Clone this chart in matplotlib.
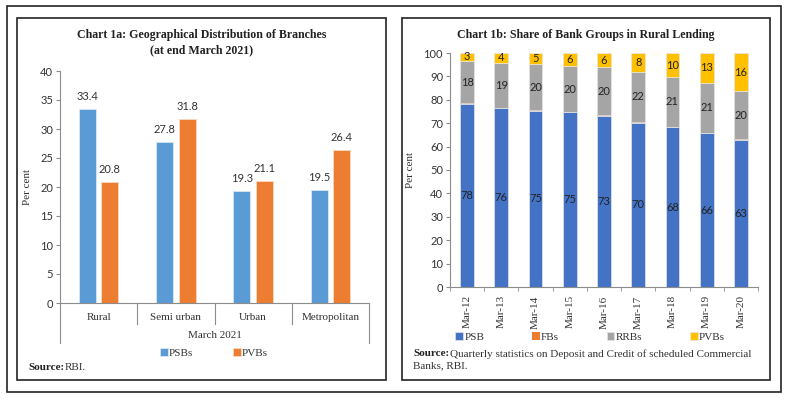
import matplotlib
matplotlib.use("Agg")
import matplotlib.pyplot as plt
from matplotlib.patches import Rectangle
from matplotlib.lines import Line2D
import numpy as np

# ---------------- data ----------------
geo_categories = ["Rural", "Semi urban", "Urban", "Metropolitan"]
geo_group_label = "March 2021"
psbs_share = [33.4, 27.8, 19.3, 19.5]
pvbs_share = [20.8, 31.8, 21.1, 26.4]

years = ["Mar-12", "Mar-13", "Mar-14", "Mar-15", "Mar-16", "Mar-17", "Mar-18", "Mar-19", "Mar-20"]
psb_rural = [78.2, 76.4, 75.3, 74.6, 73.2, 70.1, 68.2, 65.7, 62.9]
fbs_rural = [0.3, 0.3, 0.2, 0.2, 0.3, 0.3, 0.3, 0.3, 0.3]
rrbs_rural = [18.1, 19.2, 19.6, 19.6, 20.4, 21.6, 21.2, 21.3, 20.4]
pvbs_rural = [3.4, 4.1, 4.9, 5.6, 6.1, 8.0, 10.3, 12.7, 16.4]

SERIF = "Liberation Serif"
SANS = "Lato"
FS = 8

W, H = 789, 399
fig = plt.figure(figsize=(W / 100, H / 100), dpi=100)


def fx(px):
    return px / W


def fy(py):
    return 1 - py / H


# boxes
fig.add_artist(Rectangle((fx(7), fy(392)), fx(781) - fx(7), fy(6) - fy(392),
                         transform=fig.transFigure, fill=False, lw=1.2, ec="#222222"))
fig.add_artist(Rectangle((fx(17), fy(380)), fx(386) - fx(17), fy(18) - fy(380),
                         transform=fig.transFigure, fill=False, lw=1.2, ec="#222222"))
fig.add_artist(Rectangle((fx(402), fy(380)), fx(770) - fx(402), fy(18) - fy(380),
                         transform=fig.transFigure, fill=False, lw=1.2, ec="#222222"))

axis_grey = "#8c8c8c"
text_col = "#333333"

# ---------------- Chart 1a ----------------
ax1 = fig.add_axes([fx(60), fy(303), fx(369) - fx(60), fy(71) - fy(303)])
x = np.arange(len(geo_categories))
bw = 0.22
off = 0.145
b1 = ax1.bar(x - off, psbs_share, bw, color="#5B9BD5", edgecolor="#dbe7f3", lw=0.6, label="PSBs")
b2 = ax1.bar(x + off, pvbs_share, bw, color="#ED7D31", edgecolor="#f8d9c4", lw=0.6, label="PVBs")
for rect, v in zip(b1, psbs_share):
    ax1.text(rect.get_x() + rect.get_width() / 2, v + 1.2, f"{v:.1f}", ha="center", va="bottom",
             fontsize=FS, family=SANS, color=text_col)
for rect, v in zip(b2, pvbs_share):
    ax1.text(rect.get_x() + rect.get_width() / 2, v + 1.2, f"{v:.1f}", ha="center", va="bottom",
             fontsize=FS, family=SANS, color=text_col)
ax1.set_xlim(-0.5, len(geo_categories) - 0.5)
ax1.set_ylim(0, 40)
ax1.set_yticks(np.arange(0, 41, 5))
ax1.tick_params(axis="y", length=3, color=axis_grey, labelsize=FS, labelcolor=text_col, pad=2)
for lab in ax1.get_yticklabels():
    lab.set_family(SANS)
ax1.set_xticks([])
for s in ["top", "right"]:
    ax1.spines[s].set_visible(False)
ax1.spines["left"].set_color(axis_grey)
ax1.spines["bottom"].set_color(axis_grey)
ax1.set_ylabel("Per cent", fontsize=FS, family=SERIF, color=text_col, labelpad=6)
# multi-level category axis
trans = ax1.get_xaxis_transform()
for b in [0.5, 1.5, 2.5]:
    ax1.add_line(Line2D([b, b], [0, -21 / 232], transform=trans, color=axis_grey, lw=0.8, clip_on=False))
for b in [-0.5, len(geo_categories) - 0.5]:
    ax1.add_line(Line2D([b, b], [0, -40 / 232], transform=trans, color=axis_grey, lw=0.8, clip_on=False))
for i, c in enumerate(geo_categories):
    ax1.text(i, -14 / 232, c, transform=trans, ha="center", va="center", fontsize=FS,
             family=SERIF, color=text_col)
ax1.text(1.5, -33 / 232, geo_group_label, transform=trans, ha="center", va="center",
         fontsize=FS, family=SERIF, color=text_col)
fig.text(fx(202), fy(35), "Chart 1a: Geographical Distribution of Branches", ha="center", va="center",
         fontsize=8.6, fontweight="bold", family=SERIF, color="#222222")
fig.text(fx(202), fy(50), "(at end March 2021)", ha="center", va="center",
         fontsize=8.6, fontweight="bold", family=SERIF, color="#222222")
leg1 = fig.legend(handles=[b1, b2], labels=["PSBs", "PVBs"], loc="center", bbox_to_anchor=(fx(214), fy(353)),
                  ncol=2, frameon=False, handlelength=0.7, handleheight=0.7, handletextpad=0.1,
                  columnspacing=3.6, prop={"family": SERIF, "size": FS})
for t in leg1.get_texts():
    t.set_color(text_col)
fig.text(fx(28), fy(367), "Source:", ha="left", va="center", fontsize=FS, fontweight="bold",
         family=SERIF, color="#222222")
fig.text(fx(65), fy(367), "RBI.", ha="left", va="center", fontsize=FS, family=SERIF, color=text_col)

# ---------------- Chart 1b ----------------
ax2 = fig.add_axes([fx(450), fy(287), fx(758) - fx(450), fy(53) - fy(287)])
xx = np.arange(len(years))
bw2 = 0.4
ec = "#e6e6e6"
psb_arr = np.array(psb_rural)
fb_arr = np.array(fbs_rural)
rrb_arr = np.array(rrbs_rural)
pvb_arr = np.array(pvbs_rural)
h1 = ax2.bar(xx, psb_arr, bw2, color="#4472C4", edgecolor=ec, lw=0.5, label="PSB")
h2 = ax2.bar(xx, fb_arr, bw2, bottom=psb_arr, color="#ED7D31", edgecolor="none", label="FBs")
h3 = ax2.bar(xx, rrb_arr, bw2, bottom=psb_arr + fb_arr, color="#A5A5A5", edgecolor=ec, lw=0.5, label="RRBs")
h4 = ax2.bar(xx, pvb_arr, bw2, bottom=psb_arr + fb_arr + rrb_arr, color="#FFC000", edgecolor=ec, lw=0.5,
             label="PVBs")
for i in range(len(years)):
    ax2.text(xx[i], psb_arr[i] / 2, f"{psb_arr[i]:.0f}", ha="center", va="center", fontsize=FS,
             family=SANS, color="#222222")
    ax2.text(xx[i], psb_arr[i] + fb_arr[i] + rrb_arr[i] / 2, f"{rrb_arr[i]:.0f}", ha="center", va="center",
             fontsize=FS, family=SANS, color="#222222")
    ax2.text(xx[i], psb_arr[i] + fb_arr[i] + rrb_arr[i] + pvb_arr[i] / 2, f"{pvb_arr[i]:.0f}", ha="center",
             va="center", fontsize=FS, family=SANS, color="#222222")
ax2.set_xlim(-0.5, len(years) - 0.5)
ax2.set_ylim(0, 100)
ax2.set_yticks(np.arange(0, 101, 10))
ax2.tick_params(axis="y", length=3, color=axis_grey, labelsize=FS, labelcolor=text_col, pad=2)
for lab in ax2.get_yticklabels():
    lab.set_family(SANS)
ax2.set_xticks(xx)
ax2.set_xticklabels(years, rotation=90, fontsize=FS, family=SERIF, color=text_col)
ax2.tick_params(axis="x", which="major", length=0, pad=6)
ax2.set_xticks(np.arange(-0.5, len(years), 1.0), minor=True)
ax2.tick_params(axis="x", which="minor", length=3, color=axis_grey)
for s in ["top", "right"]:
    ax2.spines[s].set_visible(False)
ax2.spines["left"].set_color(axis_grey)
ax2.spines["bottom"].set_color(axis_grey)
ax2.set_ylabel("Per cent", fontsize=FS, family=SERIF, color=text_col, labelpad=6)
fig.text(fx(586), fy(35), "Chart 1b: Share of Bank Groups in Rural Lending", ha="center", va="center",
         fontsize=8.6, fontweight="bold", family=SERIF, color="#222222")
leg2 = fig.legend(handles=[h1, h2, h3, h4], labels=["PSB", "FBs", "RRBs", "PVBs"], loc="center",
                  bbox_to_anchor=(fx(590), fy(337)), ncol=4, frameon=False, handlelength=0.7,
                  handleheight=0.7, handletextpad=0.1, columnspacing=4.3,
                  prop={"family": SERIF, "size": FS})
for t in leg2.get_texts():
    t.set_color(text_col)
fig.text(fx(413), fy(354), "Source:", ha="left", va="center", fontsize=FS, fontweight="bold",
         family=SERIF, color="#222222")
fig.text(fx(450), fy(354), "Quarterly statistics on Deposit and Credit of scheduled Commercial",
         ha="left", va="center", fontsize=FS, family=SERIF, color=text_col)
fig.text(fx(413), fy(366), "Banks, RBI.", ha="left", va="center", fontsize=FS, family=SERIF, color=text_col)

fig.savefig("out.png", dpi=100)
